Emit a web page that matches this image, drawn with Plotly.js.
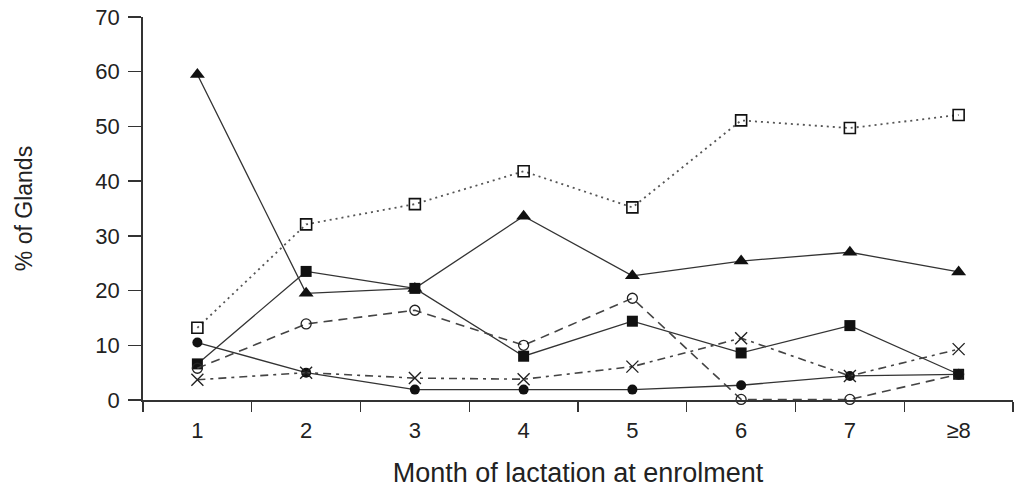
<!DOCTYPE html>
<html>
<head>
<meta charset="utf-8">
<script src="https://cdn.plot.ly/plotly-3.0.1.min.js"></script>
<style>html,body{margin:0;padding:0;background:#fff;}#chart{width:1017px;height:488px;}</style>
</head>
<body>
<div id="chart"></div>
<script>
const months = ["1", "2", "3", "4", "5", "6", "7", "≥8"];
const openSquares   = [13.2, 32.1, 35.8, 41.8, 35.2, 51.1, 49.7, 52.1];
const filledTriangles = [59.5, 19.5, 20.4, 33.6, 22.7, 25.4, 27.0, 23.4];
const filledSquares = [6.6, 23.5, 20.4, 8.0, 14.4, 8.6, 13.6, 4.7];
const openCircles   = [5.8, 13.9, 16.4, 10.0, 18.6, 0.1, 0.1, 4.7];
const filledCircles = [10.5, 5.0, 1.9, 1.9, 1.9, 2.7, 4.4, 4.7];
const crosses       = [3.7, 5.0, 4.0, 3.8, 6.1, 11.3, 4.4, 9.3];

const traces = [
  {y: openSquares, line: {color: '#555', width: 1.8, dash: '2px,4px'},
   marker: {symbol: 'square-open', size: 11, color: '#111', line: {width: 1.6}}},
  {y: filledTriangles, line: {color: '#333', width: 1.3, dash: 'solid'},
   marker: {symbol: 'triangle-up', size: 13, color: '#111'}},
  {y: filledSquares, line: {color: '#333', width: 1.3, dash: 'solid'},
   marker: {symbol: 'square', size: 11, color: '#111'}},
  {y: openCircles, line: {color: '#444', width: 1.6, dash: '9px,6px'},
   marker: {symbol: 'circle-open', size: 10, color: '#222', line: {width: 1.3}}},
  {y: filledCircles, line: {color: '#333', width: 1.3, dash: 'solid'},
   marker: {symbol: 'circle', size: 10, color: '#111'}},
  {y: crosses, line: {color: '#444', width: 1.6, dash: '8px,5px,3px,5px'},
   marker: {symbol: 'x-thin-open', size: 12, color: '#222', line: {width: 1.4, color: '#222'}}}
].map(t => Object.assign({x: months, type: 'scatter', mode: 'lines+markers', cliponaxis: false, hoverinfo: 'none'}, t));

const layout = {
  width: 1017, height: 488,
  margin: {l: 143, r: 4, t: 17, b: 88},
  paper_bgcolor: '#fff', plot_bgcolor: '#fff',
  showlegend: false,
  font: {family: 'Liberation Sans, Arial, sans-serif', color: '#222'},
  xaxis: {
    type: 'category', range: [-0.5, 7.5], tickson: 'boundaries',
    ticks: 'outside', ticklen: 10, tickwidth: 1.4, tickcolor: '#333',
    showline: true, linecolor: '#333', linewidth: 1.8,
    showgrid: false, zeroline: false,
    tickfont: {size: 22, color: '#222'}, ticklabelstandoff: 10,
    title: {text: 'Month of lactation at enrolment', font: {size: 27, color: '#222'}, standoff: 22}
  },
  yaxis: {
    range: [0, 70], tickvals: [0, 10, 20, 30, 40, 50, 60, 70],
    ticks: 'outside', ticklen: 13, tickwidth: 1.4, tickcolor: '#333',
    showline: true, linecolor: '#333', linewidth: 1.8,
    showgrid: false, zeroline: false,
    tickfont: {size: 22, color: '#222'}, ticklabelstandoff: 4,
    title: {text: '% of Glands', font: {size: 23, color: '#222'}, standoff: 56}
  }
};

Plotly.newPlot('chart', traces, layout, {displayModeBar: false, staticPlot: true});
</script>
</body>
</html>
